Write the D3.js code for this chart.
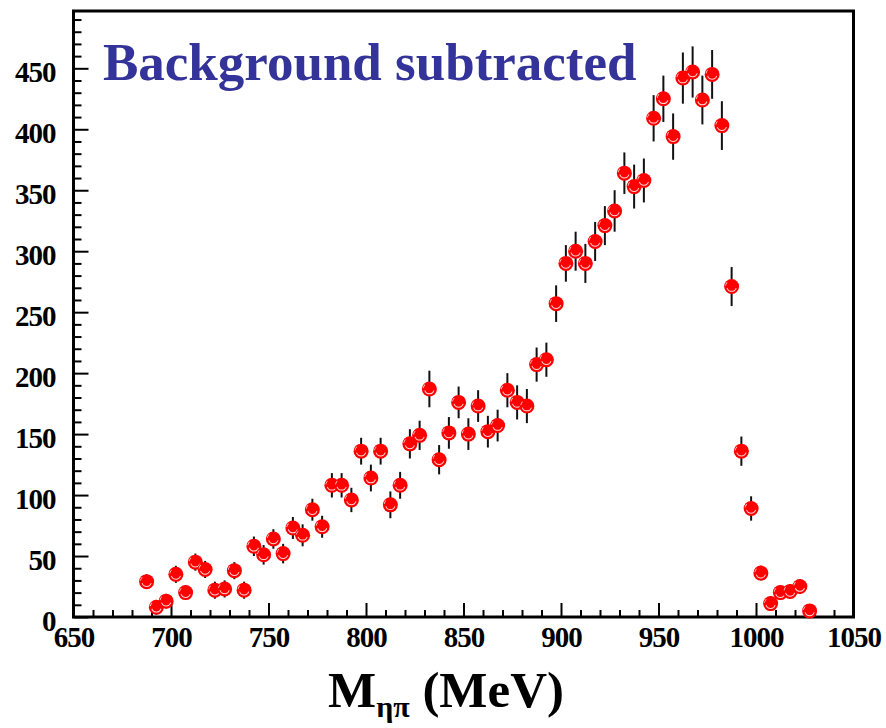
<!DOCTYPE html>
<html>
<head>
<meta charset="utf-8" />
<script src="https://d3js.org/d3.v7.min.js"></script>
<style>
	body { margin: 0; background: #fff; }
	.axis text { font-family: "Liberation Serif", "Times New Roman", serif; font-weight: bold; font-size: 29px; letter-spacing: -1px; fill: #000; }
	.axis line { stroke: #000; stroke-width: 2px; }
</style>
</head>
<body>
<div id="chart"></div>
<script>
	// bin centres (MeV), 5 MeV wide bins
	var mass = [687.5, 692.5, 697.5, 702.5, 707.5, 712.5, 717.5, 722.5, 727.5, 732.5,
		737.5, 742.5, 747.5, 752.5, 757.5, 762.5, 767.5, 772.5, 777.5, 782.5,
		787.5, 792.5, 797.5, 802.5, 807.5, 812.5, 817.5, 822.5, 827.5, 832.5,
		837.5, 842.5, 847.5, 852.5, 857.5, 862.5, 867.5, 872.5, 877.5, 882.5,
		887.5, 892.5, 897.5, 902.5, 907.5, 912.5, 917.5, 922.5, 927.5, 932.5,
		937.5, 942.5, 947.5, 952.5, 957.5, 962.5, 967.5, 972.5, 977.5, 982.5,
		987.5, 992.5, 997.5, 1002.5, 1007.5, 1012.5, 1017.5, 1022.5, 1027.5];
	var counts = [29, 8, 13, 35, 20, 45, 39, 22, 23, 38,
		22, 58, 51, 64, 52, 73, 67, 88, 74, 108,
		108, 96, 136, 114, 136, 92, 108, 142, 149, 187,
		129, 151, 176, 150, 173, 152, 157, 186, 176, 173,
		207, 211, 257, 290, 300, 290, 308, 321, 333, 364,
		353, 358, 409, 425, 394, 442, 447, 424, 445, 403,
		271, 136, 89, 36, 11, 20, 21, 25, 5];
	var errors = [6, 6, 6, 7, 6, 7, 7, 7, 7, 7,
		7, 8, 8, 8, 8, 9, 9, 9, 9, 10,
		10, 10, 11, 11, 11, 11, 11, 12, 12, 15,
		12, 13, 13, 13, 13, 13, 13, 14, 14, 14,
		14, 14, 15, 15, 16, 16, 16, 16, 17, 17,
		18, 18, 19, 19, 19, 21, 21, 20, 20, 20,
		16, 12, 10, 6, 6, 6, 6, 6, 5];
	var xMajor = [650, 700, 750, 800, 850, 900, 950, 1000, 1050];
	var yMajor = [0, 50, 100, 150, 200, 250, 300, 350, 400, 450];

	var data = mass.map(function (m, i) { return { m: m, n: counts[i], e: errors[i] }; });

	var width = 886, height = 728;
	var plotL = 73.5, plotR = 853.5, plotT = 11, plotB = 617;

	var x = d3.scaleLinear().domain([650, 1050]).range([plotL, plotR]);
	var y = d3.scaleLinear().domain([0, 497]).range([plotB, plotT]);

	var svg = d3.select("#chart").append("svg")
		.attr("width", width)
		.attr("height", height);

	// minor ticks every 10
	var xMinor = d3.range(650, 1051, 10).filter(function (v) { return v % 50 != 0; });
	var yMinor = d3.range(0, 497, 10).filter(function (v) { return v % 50 != 0; });

	svg.append("g")
		.attr("class", "axis")
		.attr("transform", "translate(0," + plotB + ")")
		.call(d3.axisBottom(x).tickValues(xMinor).tickSize(-7).tickFormat(""))
		.select(".domain").remove();
	svg.append("g")
		.attr("class", "axis")
		.attr("transform", "translate(" + plotL + ",0)")
		.call(d3.axisLeft(y).tickValues(yMinor).tickSize(-8).tickFormat(""))
		.select(".domain").remove();

	var gx = svg.append("g")
		.attr("class", "axis")
		.attr("transform", "translate(0," + plotB + ")")
		.call(d3.axisBottom(x).tickValues(xMajor).tickSize(-14).tickPadding(9).tickFormat(d3.format("d")));
	gx.select(".domain").remove();
	gx.attr("font-family", null).attr("font-size", null);

	var gy = svg.append("g")
		.attr("class", "axis")
		.attr("transform", "translate(" + plotL + ",0)")
		.call(d3.axisLeft(y).tickValues(yMajor).tickSize(-15).tickPadding(18).tickFormat(d3.format("d")));
	gy.select(".domain").remove();
	gy.attr("font-family", null).attr("font-size", null);
	gy.selectAll("text").attr("dy", "0.45em");

	// frame
	svg.append("rect")
		.attr("x", plotL)
		.attr("y", plotT)
		.attr("width", plotR - plotL)
		.attr("height", plotB - plotT)
		.style("fill", "none")
		.style("stroke", "#000")
		.style("stroke-width", 3);

	// error bars
	svg.selectAll(".err")
		.data(data)
		.enter().append("line")
		.attr("class", "err")
		.attr("x1", function (d) { return x(d.m); })
		.attr("x2", function (d) { return x(d.m); })
		.attr("y1", function (d) { return y(d.n + d.e); })
		.attr("y2", function (d) { return y(Math.max(0, d.n - d.e)); })
		.style("stroke", "#111")
		.style("stroke-width", 2);

	// markers
	var dots = svg.selectAll(".dot")
		.data(data)
		.enter().append("g")
		.attr("class", "dot")
		.attr("transform", function (d) { return "translate(" + x(d.m) + "," + y(d.n) + ")"; });
	dots.append("circle")
		.attr("r", 7.5)
		.style("fill", "#ff0000");
	dots.append("path")
		.attr("d", d3.arc()({ innerRadius: 4.3, outerRadius: 5.3, startAngle: Math.PI * 0.6, endAngle: Math.PI * 1.4 }))
		.style("fill", "#ffd6d6");
	dots.append("path")
		.attr("d", d3.arc()({ innerRadius: 5.8, outerRadius: 6.6, startAngle: -Math.PI * 0.45, endAngle: -Math.PI * 0.25 }))
		.style("fill", "#ffd6d6");

	// title
	svg.append("text")
		.attr("x", 103)
		.attr("y", 80)
		.style("font-family", "'Liberation Serif', 'Times New Roman', serif")
		.style("font-weight", "bold")
		.style("font-size", "53px")
		.style("fill", "#333399")
		.text("Background subtracted");

	// x axis title
	var xt = svg.append("text")
		.attr("x", 328)
		.attr("y", 707)
		.style("font-family", "'Liberation Serif', 'Times New Roman', serif")
		.style("font-weight", "bold")
		.style("font-size", "51px")
		.style("fill", "#000");
	xt.append("tspan").text("M");
	xt.append("tspan").attr("dy", 10).style("font-size", "30px").text("ηπ");
	xt.append("tspan").attr("dy", -10).text(" (MeV)");
</script>
</body>
</html>
